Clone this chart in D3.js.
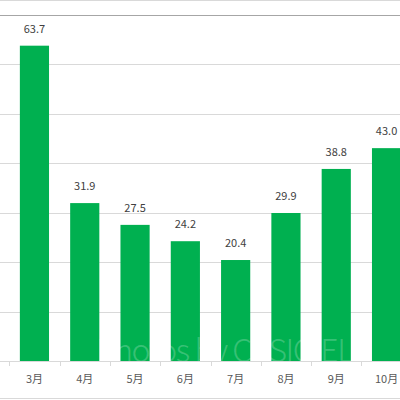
<!DOCTYPE html>
<html>
<head>
<meta charset="utf-8">
<script src="https://cdn.jsdelivr.net/npm/d3@7"></script>
<style>
body { margin: 0; background: #fff; }
text { font-family: "Noto Sans CJK JP", "Noto Sans", sans-serif; }
</style>
</head>
<body>
<svg id="chart" width="400" height="400"></svg>
<script>
var months = ["3月", "4月", "5月", "6月", "7月", "8月", "9月", "10月"];
var values = [63.7, 31.9, 27.5, 24.2, 20.4, 29.9, 38.8, 43.0];
var yTicks = [10, 20, 30, 40, 50, 60];

var svg = d3.select("#chart");

var xScale = d3.scaleBand()
    .domain(months)
    .range([9.3, 411.7])
    .paddingInner(0.42)
    .paddingOuter(0.21);

var yScale = d3.scaleLinear()
    .domain([0, 70])
    .range([361, 14.5]);

// chart frame lines
svg.append("line")
    .attr("x1", 0).attr("x2", 400)
    .attr("y1", 0.5).attr("y2", 0.5)
    .attr("stroke", "#d9d9d9");
svg.append("line")
    .attr("x1", 0).attr("x2", 400)
    .attr("y1", 398.5).attr("y2", 398.5)
    .attr("stroke", "#d9d9d9");

// gridlines
svg.append("g")
    .selectAll("line")
    .data(yTicks)
    .enter()
    .append("line")
    .attr("x1", 0).attr("x2", 400)
    .attr("y1", function(d) { return Math.round(yScale(d)) + 0.5; })
    .attr("y2", function(d) { return Math.round(yScale(d)) + 0.5; })
    .attr("stroke", "#d9d9d9");

svg.append("line")
    .attr("x1", 0).attr("x2", 400)
    .attr("y1", Math.round(yScale(70)) + 0.5)
    .attr("y2", Math.round(yScale(70)) + 0.5)
    .attr("stroke", "#a6a6a6");

// bars
svg.append("g")
    .selectAll("rect")
    .data(values)
    .enter()
    .append("rect")
    .attr("x", function(d, i) { return xScale(months[i]); })
    .attr("width", xScale.bandwidth())
    .attr("y", function(d) { return yScale(d); })
    .attr("height", function(d) { return yScale(0) - yScale(d); })
    .attr("fill", "#00b050");

// watermark
svg.append("text")
    .text("Photos by CASIO EL")
    .attr("x", 96)
    .attr("y", 362)
    .attr("font-size", 32)
    .attr("font-weight", 300)
    .attr("textLength", 258)
    .attr("fill", "#ffffff")
    .attr("fill-opacity", 0.22);

// x axis
var xAxis = d3.axisBottom(xScale).tickSize(0).tickPadding(14);
var axis = svg.append("g")
    .attr("transform", "translate(0,361)")
    .call(xAxis);
axis.select(".domain").remove();
axis.selectAll("text")
    .attr("font-size", 11)
    .attr("fill", "#595959")
    .style("font-family", "'Noto Sans CJK JP', sans-serif");

svg.append("line")
    .attr("x1", 0).attr("x2", 400)
    .attr("y1", 361.5).attr("y2", 361.5)
    .attr("stroke", "#d9d9d9");

var step = xScale.step();
svg.append("g")
    .selectAll("line")
    .data(months)
    .enter()
    .append("line")
    .attr("x1", function(d) { return Math.round(xScale(d) - step * 0.21) + 0.5; })
    .attr("x2", function(d) { return Math.round(xScale(d) - step * 0.21) + 0.5; })
    .attr("y1", 361)
    .attr("y2", 366)
    .attr("stroke", "#d9d9d9");

// value labels
svg.append("g")
    .selectAll("text")
    .data(values)
    .enter()
    .append("text")
    .text(function(d) { return d.toFixed(1); })
    .attr("x", function(d, i) { return xScale(months[i]) + xScale.bandwidth() / 2; })
    .attr("y", function(d) { return yScale(d) - 13; })
    .attr("text-anchor", "middle")
    .attr("font-size", 11)
    .attr("fill", "#404040");
</script>
</body>
</html>
